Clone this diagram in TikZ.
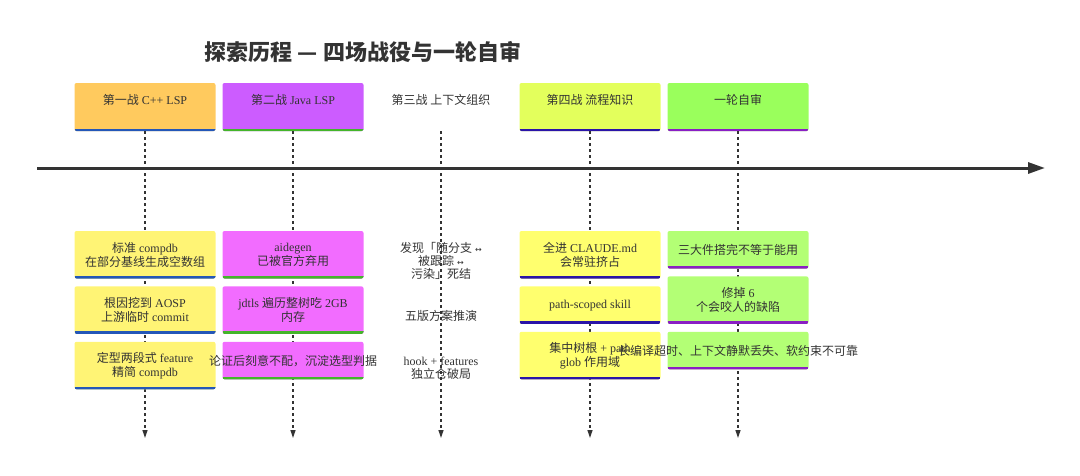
\documentclass[tikz,border=0pt]{standalone}
\usepackage{fontspec}
\setmainfont{Liberation Serif}
\newfontfamily\cjk{Noto Sans CJK SC}
\newfontfamily\symfont{DejaVu Sans}
\newcommand{\zh}[1]{{\cjk #1}}
\newcommand{\spill}[1]{\makebox[0pt][c]{#1}}
\newcommand{\lrarr}{{\symfont\fontsize{8}{10}\selectfont ↔}}
\usetikzlibrary{positioning, arrows.meta}
\definecolor{inkgray}{HTML}{333333}
\definecolor{hdrone}{HTML}{FFCA5E}
\definecolor{hdrtwo}{HTML}{CC5CFF}
\definecolor{hdrfour}{HTML}{E3FF5C}
\definecolor{hdrfive}{HTML}{9AFF5C}
\definecolor{cardone}{HTML}{FFF475}
\definecolor{cardtwo}{HTML}{F26CFF}
\definecolor{cardfour}{HTML}{FFFF6E}
\definecolor{cardfive}{HTML}{B3FF75}
\definecolor{lineone}{HTML}{2457B8}
\definecolor{linetwo}{HTML}{44B52A}
\definecolor{linefour}{HTML}{2A14A8}
\definecolor{linefive}{HTML}{8A1FC4}

\begin{document}
\begin{tikzpicture}[
  x=1pt, y=-1pt,
  every node/.style={text=inkgray, font=\fontsize{12}{14}\selectfont},
  card/.style 2 args={rectangle, rounded corners=2pt, fill=#1,
                      minimum width=141pt, minimum height=47.5pt,
                      inner sep=2pt, align=center,
                      path picture={\draw[line width=5pt, #2]
                        (path picture bounding box.south west) --
                        (path picture bounding box.south east);}},
  shortcard/.style={minimum height=37.5pt},
  header/.style 2 args={card={#1}{#2}, minimum height=48pt,
                        text height=9pt, text depth=15pt},
  bare/.style={align=center, font=\fontsize{12}{13}\selectfont},
  guide/.style={-{Triangle[length=8pt, width=5pt]}, line width=1.2pt,
                inkgray, dash pattern=on 3pt off 3pt},
  timeline/.style={-{Triangle[length=17pt, width=11pt]}, line width=3pt, inkgray},
]
  \useasboundingbox (0,0) rectangle (1080,475);

  % Title
  \node[font=\cjk\bfseries\fontsize{22}{26}\selectfont] (title) at (363,52)
    {探索历程 — 四场战役与一轮自审};

  % Headers
  \node[header={hdrone}{lineone}]   (hd1) at (145,107) {\zh{第一战} C++ LSP};
  \node[header={hdrtwo}{linetwo}]   (hd2) at (293,107) {\zh{第二战} Java LSP};
  \node[header={white}{white}]      (hd3) at (441,107) {\zh{第三战 上下文组织}};
  \node[header={hdrfour}{linefour}] (hd4) at (590,107) {\zh{第四战 流程知识}};
  \node[header={hdrfive}{linefive}] (hd5) at (738,107) {\zh{一轮自审}};

  % Guides and timeline
  \foreach \i/\x in {1/145, 2/293, 3/441, 4/590, 5/738} {
    \coordinate (end\i) at (\x,438);
    \draw[guide] (hd\i.south) -- (end\i);
  }
  \coordinate (tlstart) at (37,168);
  \coordinate (tlend) at (1045,168);
  \draw[timeline] (tlstart) -- (tlend);

  % First battle
  \node[card={cardone}{lineone}] (c11) at (145,254.75)
    {\zh{标准} compdb\\\zh{在部分基线生成空数组}};
  \node[card={cardone}{lineone}, below=7.5pt of c11] (c12)
    {\zh{根因挖到} AOSP\\\zh{上游临时} commit};
  \node[card={cardone}{lineone}, below=7.5pt of c12] (c13)
    {\zh{定型两段式} feature\\\zh{精简} compdb};

  % Second battle
  \node[card={cardtwo}{linetwo}] (c21) at (293,254.75)
    {aidegen\\\zh{已被官方弃用}};
  \node[card={cardtwo}{linetwo}, below=7.5pt of c21] (c22)
    {jdtls \zh{遍历整树吃} 2GB\\\zh{内存}};
  \node[card={cardtwo}{linetwo}, shortcard, below=7.5pt of c22] (c23)
    {\spill{\zh{论证后刻意不配，沉淀选型判据}}};

  % Third battle
  \node[bare] (c31) at (441,261)
    {\zh{发现「随分支} \lrarr\\\zh{被跟踪} \lrarr\\\zh{污染」死结}};
  \node[bare] (c32) at (441,316) {\zh{五版方案推演}};
  \node[bare] (c33) at (441,368) {hook + features\\\zh{独立仓破局}};

  % Fourth battle
  \node[card={cardfour}{linefour}] (c41) at (590,254.75)
    {\zh{全进} CLAUDE.md\\\zh{会常驻挤占}};
  \node[card={cardfour}{linefour}, shortcard, below=7.5pt of c41] (c42)
    {path-scoped skill};
  \node[card={cardfour}{linefour}, below=7.5pt of c42] (c43)
    {\zh{集中树根} + path\\glob \zh{作用域}};

  % Self review
  \node[card={cardfive}{linefive}, shortcard] (c51) at (738,249.75)
    {\zh{三大件搭完不等于能用}};
  \node[card={cardfive}{linefive}, below=7.5pt of c51] (c52)
    {\zh{修掉} 6\\\zh{个会咬人的缺陷}};
  \node[card={cardfive}{linefive}, shortcard, below=7.5pt of c52] (c53)
    {\spill{\zh{长编译超时、上下文静默丢失、软约束不可靠}}};
\end{tikzpicture}
\end{document}
